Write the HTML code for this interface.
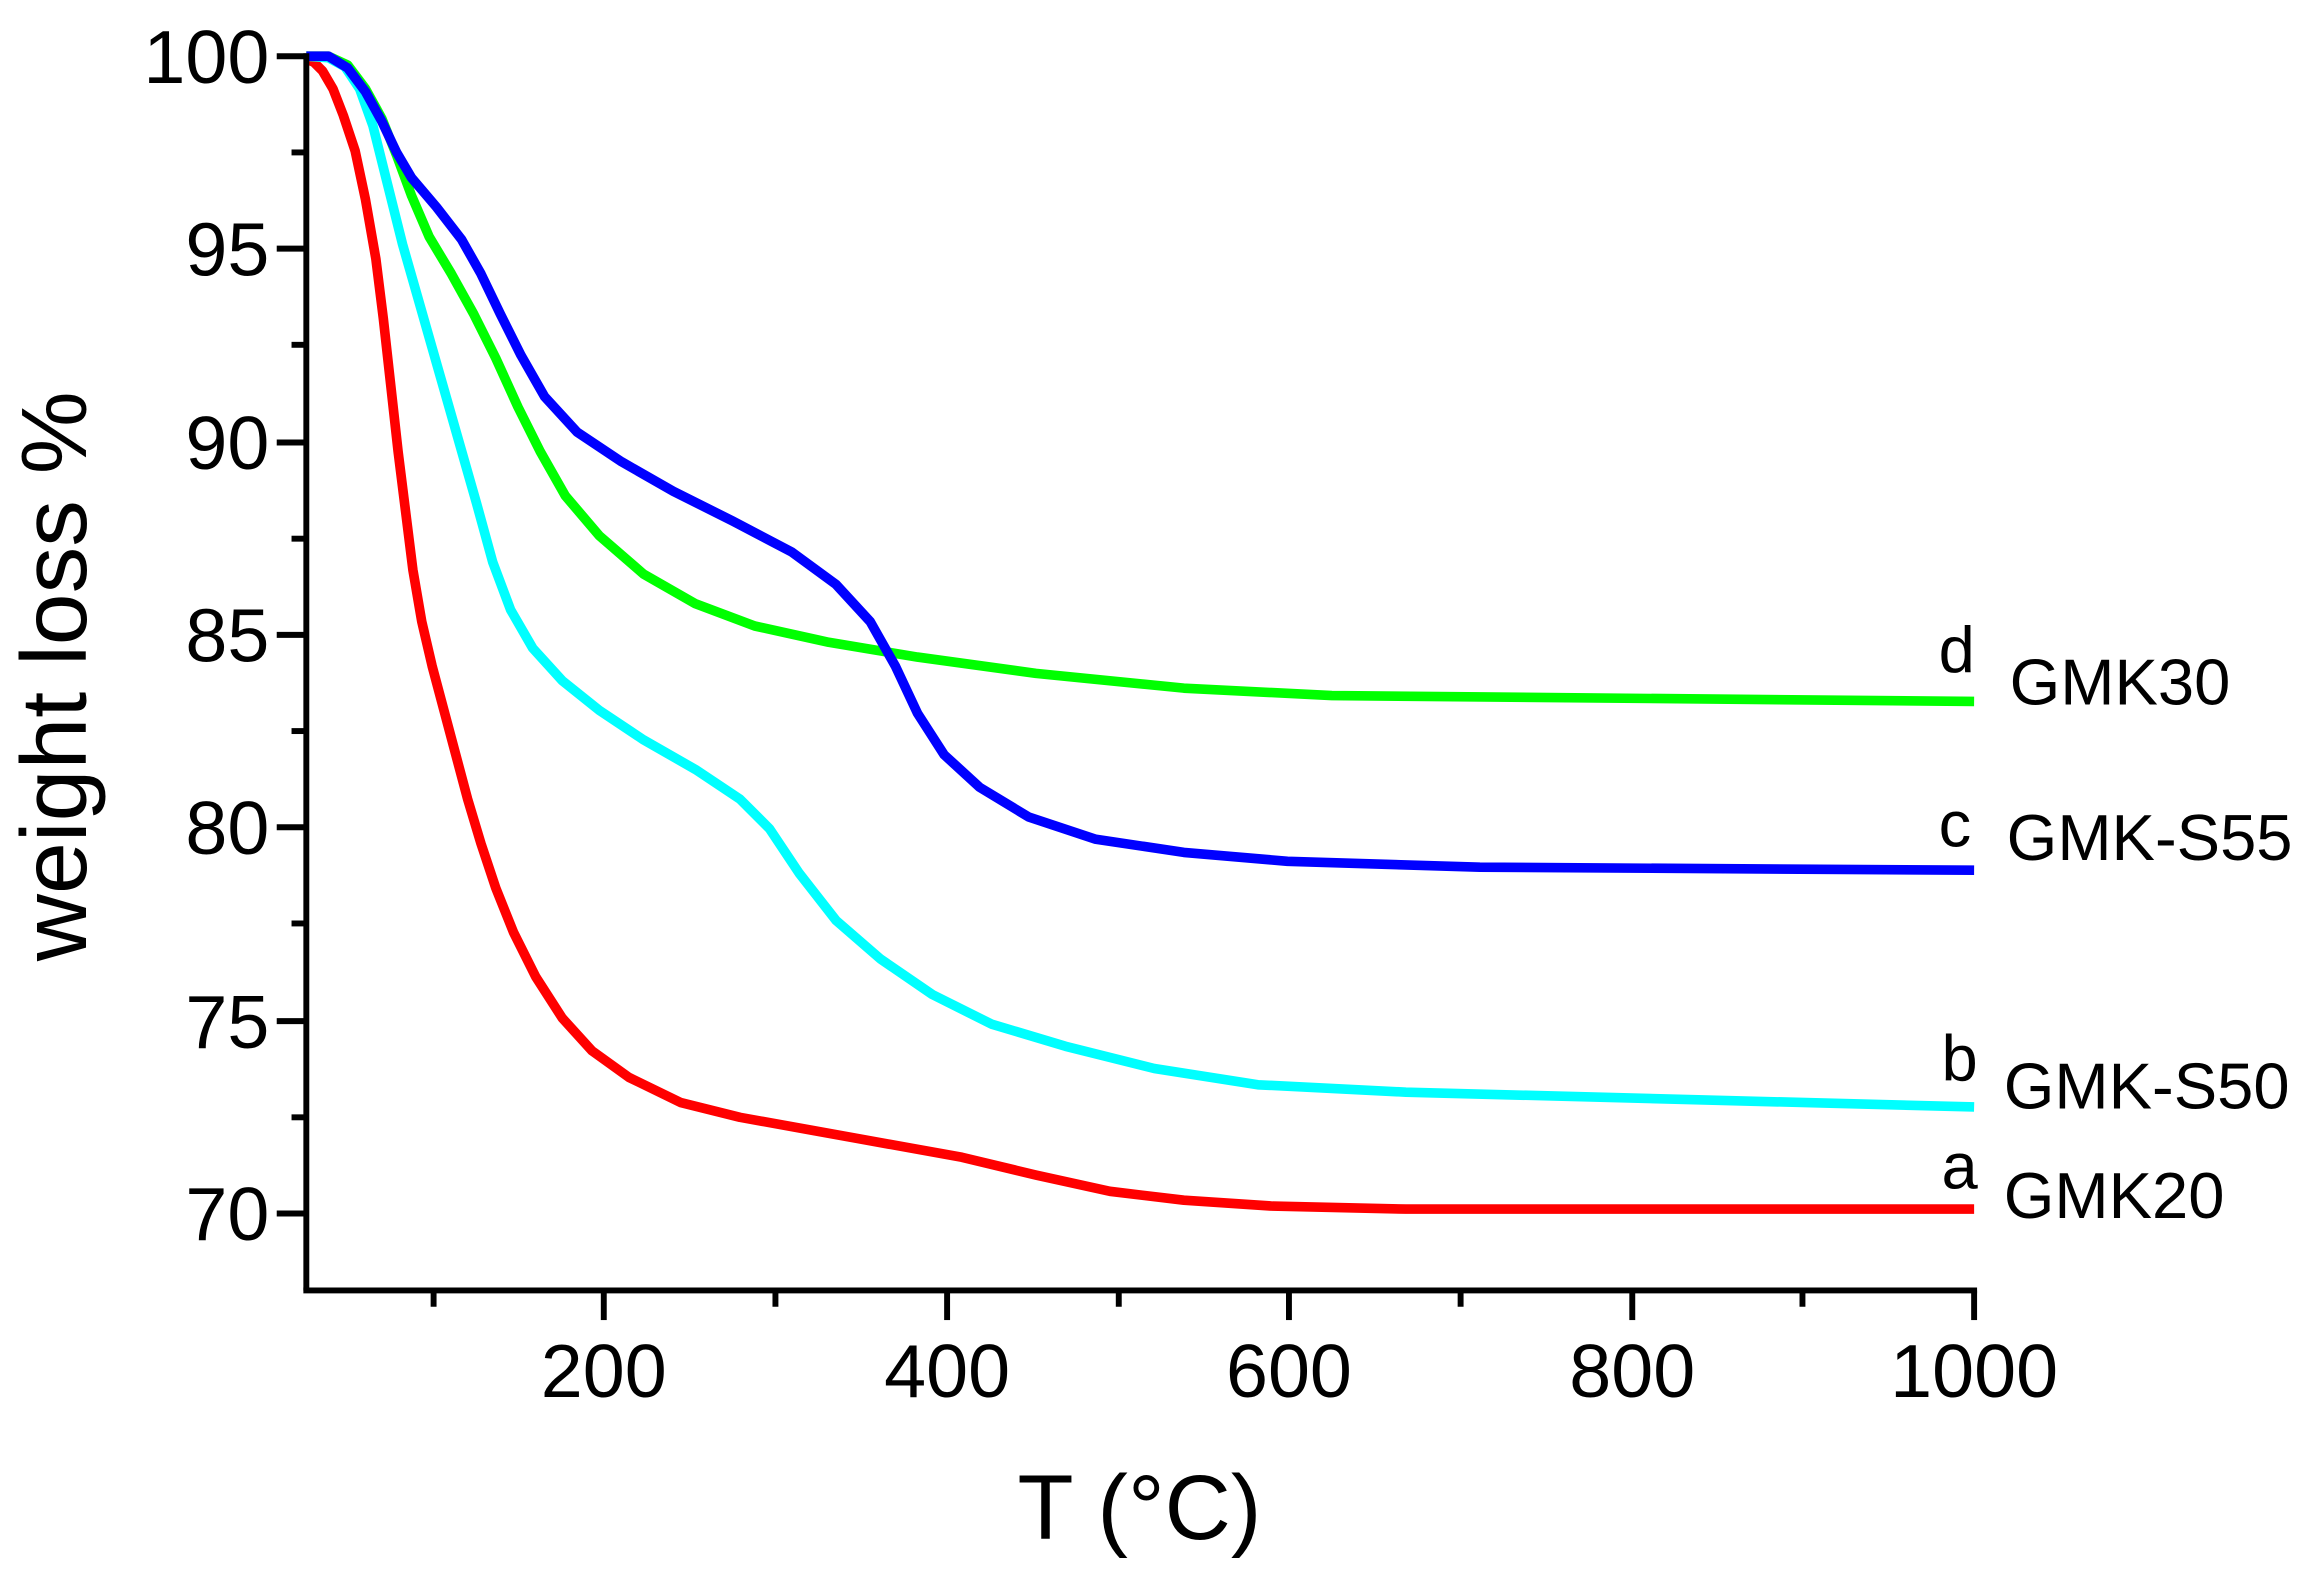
<!DOCTYPE html>
<html><head><meta charset="utf-8"><style>
html,body{margin:0;padding:0;background:#fff;}
svg{display:block;}
text{font-family:"Liberation Sans",Arial,sans-serif;fill:#000;}
</style></head><body>
<svg width="2313" height="1590" viewBox="0 0 1563 1074.4" preserveAspectRatio="none" xmlns="http://www.w3.org/2000/svg">
<g fill="none" stroke-linejoin="round" stroke-linecap="butt" stroke-width="6.5">
<polyline stroke="#ff0000" points="207,40 212,42 218,48 225,60 232,78 240,102 247,135 254,175 259,215 264,260 269,305 274,345 279,385 285,420 292,450 300,480 308,510 316,540 325,570 335,600 347,630 362,660 380,688 400,710 425,728 460,745 500,755 550,764 600,773 650,782 700,794 750,805 800,811 860,815 950,817 1334,817"/>
<polyline stroke="#00ffff" points="207,38 222,39 233,45 243,60 252,85 262,125 272,165 282,200 292,235 302,270 312,305 322,340 333,380 345,412 360,438 380,460 405,480 435,500 470,520 500,540 520,560 540,590 565,622 595,648 630,672 670,692 720,707 780,722 850,733 950,738 1334,748"/>
<polyline stroke="#00ff00" points="207,38 222,38 235,44 247,60 258,80 268,105 278,132 290,160 305,185 320,212 335,242 350,275 365,305 382,335 405,362 435,388 470,408 510,423 560,434 620,444 700,455 800,465 900,470 1334,474"/>
<polyline stroke="#0000ff" points="207,38 222,38 235,46 247,62 258,82 268,103 278,120 295,140 312,162 325,185 338,212 352,240 368,268 390,292 420,312 455,332 495,352 535,373 565,395 588,420 605,450 620,482 638,510 662,532 695,552 740,567 800,576 870,582 1000,586 1334,588"/>
</g>
<g stroke="#000" stroke-width="4" fill="none">
<line x1="207" y1="36" x2="207" y2="872"/>
<line x1="205" y1="872" x2="1336" y2="872"/>
<line x1="187" y1="38" x2="207" y2="38"/>
<line x1="187" y1="168" x2="207" y2="168"/>
<line x1="187" y1="299" x2="207" y2="299"/>
<line x1="187" y1="429" x2="207" y2="429"/>
<line x1="187" y1="559" x2="207" y2="559"/>
<line x1="187" y1="690" x2="207" y2="690"/>
<line x1="187" y1="820" x2="207" y2="820"/>
<line x1="197" y1="103" x2="207" y2="103"/>
<line x1="197" y1="233" x2="207" y2="233"/>
<line x1="197" y1="364" x2="207" y2="364"/>
<line x1="197" y1="494" x2="207" y2="494"/>
<line x1="197" y1="624" x2="207" y2="624"/>
<line x1="197" y1="755" x2="207" y2="755"/>
<line x1="408" y1="872" x2="408" y2="892"/>
<line x1="640" y1="872" x2="640" y2="892"/>
<line x1="871" y1="872" x2="871" y2="892"/>
<line x1="1103" y1="872" x2="1103" y2="892"/>
<line x1="1334" y1="872" x2="1334" y2="892"/>
<line x1="293" y1="872" x2="293" y2="883"/>
<line x1="524" y1="872" x2="524" y2="883"/>
<line x1="756" y1="872" x2="756" y2="883"/>
<line x1="987" y1="872" x2="987" y2="883"/>
<line x1="1218" y1="872" x2="1218" y2="883"/>
</g>
<g font-size="51" text-anchor="end">
<text x="182" y="56">100</text>
<text x="182" y="186">95</text>
<text x="182" y="317">90</text>
<text x="182" y="447">85</text>
<text x="182" y="577">80</text>
<text x="182" y="708">75</text>
<text x="182" y="838">70</text>
</g>
<g font-size="51" text-anchor="middle">
<text x="408" y="944">200</text>
<text x="640" y="944">400</text>
<text x="871" y="944">600</text>
<text x="1103" y="944">800</text>
<text x="1334" y="944">1000</text>
</g>
<text x="770" y="1040" font-size="62" text-anchor="middle">T (°C)</text>
<text transform="translate(58,457) rotate(-90)" font-size="63" text-anchor="middle">weight loss %</text>
<g font-size="44">
<text x="1310" y="454">d</text>
<text x="1358" y="476">GMK30</text>
<text x="1310" y="572">c</text>
<text x="1356" y="581">GMK-S55</text>
<text x="1312" y="730">b</text>
<text x="1354" y="749">GMK-S50</text>
<text x="1312" y="803">a</text>
<text x="1354" y="823">GMK20</text>
</g>
</svg>
</body></html>
